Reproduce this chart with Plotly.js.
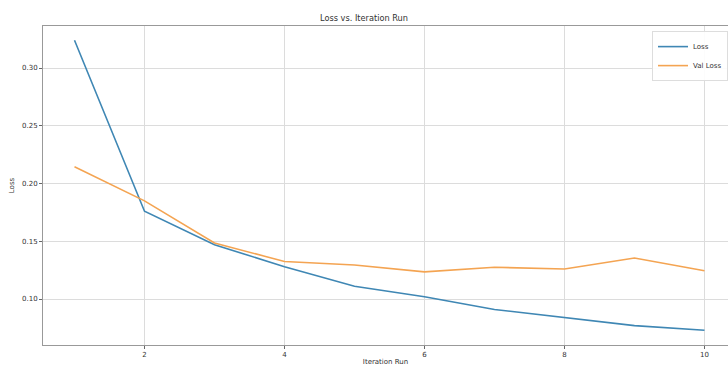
<!DOCTYPE html>
<html>
<head>
<meta charset="utf-8">
<script src="https://cdn.plot.ly/plotly-3.0.1.min.js"></script>
<style>
html,body{margin:0;padding:0;overflow:hidden;background:#fff;}
#chart{width:728px;height:366px;}
</style>
</head>
<body>
<div id="chart"></div>
<script>
const iterations = [1, 2, 3, 4, 5, 6, 7, 8, 9, 10];
const loss = [0.324, 0.176, 0.147, 0.128, 0.111, 0.102, 0.091, 0.084, 0.077, 0.073];
const valLoss = [0.2145, 0.185, 0.1485, 0.1325, 0.1295, 0.1235, 0.1275, 0.126, 0.1355, 0.1245];
const xTicks = [2, 4, 6, 8, 10];
const yTicks = [0.10, 0.15, 0.20, 0.25, 0.30];

const traces = [
  {x: iterations, y: loss, mode: 'lines', name: 'Loss',
   line: {color: '#3f87b4', width: 1.6}},
  {x: iterations, y: valLoss, mode: 'lines', name: 'Val Loss',
   line: {color: '#f4a452', width: 1.6}}
];

const layout = {
  width: 728, height: 366,
  margin: {l: 43, r: 0, t: 26, b: 21},
  paper_bgcolor: '#fff', plot_bgcolor: '#fff',
  font: {family: 'DejaVu Sans', size: 7, color: '#333'},
  title: {text: 'Loss vs. Iteration Run', font: {size: 8.2, color: '#333'},
          x: 390, xref: 'container', xanchor: 'center', y: 0.95, yref: 'container', yanchor: 'middle'},
  showlegend: true,
  legend: {x: 1, y: 0.984, xanchor: 'right', yanchor: 'top',
           bgcolor: 'rgba(255,255,255,0.9)', bordercolor: '#ddd', borderwidth: 1,
           itemwidth: 30, font: {size: 7, color: '#333'}, tracegroupgap: 0},
  xaxis: {
    range: [0.55, 10.336], tickvals: xTicks, ticktext: xTicks.map(String),
    showgrid: true, gridcolor: '#dcdcdc', gridwidth: 1,
    zeroline: false, showline: true, linecolor: '#999', linewidth: 1, mirror: true,
    ticks: 'outside', ticklen: 3, tickcolor: '#666',
    title: {text: 'Iteration Run', font: {size: 7, color: '#333'}, standoff: 2}
  },
  yaxis: {
    range: [0.0602, 0.3364], tickvals: yTicks, ticktext: yTicks.map(v => v.toFixed(2)),
    showgrid: true, gridcolor: '#dcdcdc', gridwidth: 1,
    zeroline: false, showline: true, linecolor: '#999', linewidth: 1, mirror: false,
    ticks: 'outside', ticklen: 3, tickcolor: '#666',
    title: {text: 'Loss', font: {size: 7, color: '#333'}, standoff: 6}
  }
};

Plotly.newPlot('chart', traces, layout, {staticPlot: true, displayModeBar: false});
</script>
</body>
</html>
